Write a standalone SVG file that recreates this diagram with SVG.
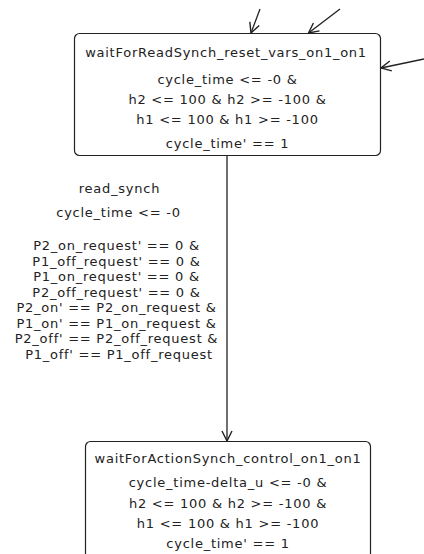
<svg xmlns="http://www.w3.org/2000/svg" width="424" height="554" viewBox="0 0 424 554">
<defs>
<marker id="arr" viewBox="-11 -6 12 12" markerWidth="12" markerHeight="12" refX="0" refY="0" orient="auto" markerUnits="userSpaceOnUse">
<path d="M-10,-5 L0,0 L-10,5" fill="none" stroke="#222" stroke-width="1.4"/>
</marker>
</defs>
<style>
text{font-family:"DejaVu Sans",Verdana,sans-serif;font-size:13px;letter-spacing:0.75px;fill:#222;text-anchor:middle}
.box{fill:#fff;stroke:#222;stroke-width:1.2}
.edge{fill:none;stroke:#222;stroke-width:1.3;marker-end:url(#arr)}
</style>
<rect width="424" height="554" fill="#fff"/>
<g id="connectors">
<line class="edge" x1="260" y1="9" x2="251" y2="33"/>
<line class="edge" x1="340" y1="9" x2="308.5" y2="33"/>
<line class="edge" x1="424" y1="59" x2="381" y2="68"/>
<line class="edge" x1="227" y1="156" x2="227" y2="441"/>
<g id="edge-label">
<text x="119.5" y="192.5">read_synch</text>
<text x="118.5" y="217">cycle_time &lt;= -0</text>
<text x="116.5" y="250">P2_on_request' == 0 &amp;</text>
<text x="116.5" y="265.5">P1_off_request' == 0 &amp;</text>
<text x="116.5" y="281">P1_on_request' == 0 &amp;</text>
<text x="116.5" y="296.5">P2_off_request' == 0 &amp;</text>
<text x="116.5" y="312">P2_on' == P2_on_request &amp;</text>
<text x="116.5" y="327.5">P1_on' == P1_on_request &amp;</text>
<text x="116.5" y="343">P2_off' == P2_off_request &amp;</text>
<text x="119" y="358.5">P1_off' == P1_off_request</text>
</g>
</g>
<g id="waitForReadSynch_reset_vars_on1_on1">
<rect class="box" x="74.5" y="33.5" width="306" height="122" rx="5"/>
<text x="226" y="56.5">waitForReadSynch_reset_vars_on1_on1</text>
<text x="227.5" y="84">cycle_time &lt;= -0 &amp;</text>
<text x="227.5" y="103.5">h2 &lt;= 100 &amp; h2 &gt;= -100 &amp;</text>
<text x="227.5" y="123.5">h1 &lt;= 100 &amp; h1 &gt;= -100</text>
<text x="227.5" y="147.5">cycle_time' == 1</text>
</g>
<g id="waitForActionSynch_control_on1_on1">
<rect class="box" x="85.5" y="441.5" width="285" height="125" rx="5"/>
<text x="228" y="463">waitForActionSynch_control_on1_on1</text>
<text x="228" y="487">cycle_time-delta_u &lt;= -0 &amp;</text>
<text x="228" y="507.5">h2 &lt;= 100 &amp; h2 &gt;= -100 &amp;</text>
<text x="228" y="528">h1 &lt;= 100 &amp; h1 &gt;= -100</text>
<text x="228" y="548">cycle_time' == 1</text>
</g>
</svg>
